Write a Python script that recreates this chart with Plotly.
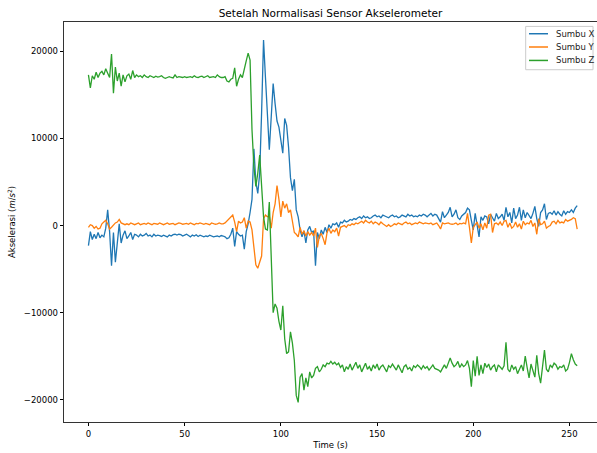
import plotly.graph_objects as go

time = list(range(255))

sumbu_x = [
    -2300, -700, -1600, -1000, -1500, -800, -1400, -1100, -1300, -300,
    1800, -700, -4600, -800, -4200, -1500, 200, -2000, -1100, -600,
    -1500, -1200, -800, -1600, -1000, -1100, -1300, -1000, -1200, -1100,
    -900, -1200, -1100, -1300, -1000, -1200, -1100, -1150, -1250, -1100,
    -1200, -1300, -1100, -1200, -1050, -1000, -1100, -1000, -1050, -1200,
    -1100, -1000, -1150, -1300, -1100, -1200, -1050, -1250, -1100, -1200,
    -1300, -1200, -1250, -1100, -1200, -1300, -1250, -1200, -1300, -1150,
    -1200, -1300, -1500, -1400, -1000, -300, -2400, -700, -1000, -1200,
    -1100, -2700, -700, 200, 1500, 3000, 8800, 5000, 3700, 6000,
    13000, 21300, 17000, 13500, 8700, 12500, 16300, 14000, 12000, 11300,
    10000, 8300, 12300, 11500, 9000, 5500, 4000, 5300, 1800, 1000,
    -500, -1300, -600, -2000, -500, -100, -800, -600, -4600, -800,
    -1500, -500, -1000, -200, -800, 100, -300, 200, 100, 300,
    -200, 400, 300, 600, 400, 500, 700, 600, 800, 700,
    900, 1000, 800, 1100, 900, 1000, 800, 900, 1100, 1200,
    1000, 1100, 900, 1200, 1100, 1000, 900, 1100, 1200, 1000,
    1100, 900, 1000, 1200, 1100, 1000, 1300, 1100, 1200, 1000,
    1100, 1000, 1200, 1100, 1300, 1200, 1000, 1200, 1400, 1100,
    1300, 1200, 800, 400, 1600, 900, 1200, 1500, 2100, 1000,
    1300, 1800, 900, 700, 1100, 1300, 1500, 2000, 1800, 600,
    -500, 1400, 100, -1300, 1000, 600, 1100, 1000, 200, 1300,
    900, 500, 1400, 800, 1000, 1300, 600, 2100, 1000, 1500,
    300, 2000, 800, 1200, 2100, 600, 1800, 900, 1500, 1200,
    800, 1400, 2200, 800, -100, 1500, 1800, 2500, 700, 1400,
    1500, 1300, 1700, 1200, 1600, 1300, 1100, 1700, 1300, 1600,
    1500, 1800, 1500, 2000, 2300,
]

sumbu_y = [
    -200, 100, 0, -300, -100, -400, -300, 200, 400, 600,
    200, -400, -200, 100, 300, 400, 700, 300, 200, 100,
    200, 100, 300, 200, 100, 200, 300, 100, 200, 250,
    150, 300, 200, 100, 250, 200, 150, 300, 200, 100,
    200, 300, 150, 200, 250, 100, 200, 300, 250, 150,
    200, 250, 150, 300, 200, 100, 250, 200, 300, 200,
    150, 250, 200, 100, 300, 250, 150, 200, 300, 200,
    200, 300, 500, 800, 1000, 1200, 400, -700, 500, 300,
    400, 900, -300, 500, 400, -500, -2500, -4500, -4900, -4200,
    -3500, 800, 1200, 1000, 1100, -300, 1500, 2500, 4600, 3000,
    1000, 2800, 2000, 2500, 1500, 1800, 500, -800, -1000, -1300,
    -200, -1000, -600, -1200, -700, -1100, -800, -1200, -300, -2500,
    -1200, -900, -1500, -2200, -800, -300, -900, -500, -700, -300,
    -1200, -200, -100, 0, -200, 100, 0, 200, 100, 300,
    200, 400, 500, 300, 600, 400, 300, 500, 200, 400,
    300, 100, 400, 200, 0, -100, 100, -100, 0, 200,
    100, 300, 200, 100, 300, 400, 200, 300, 100, 200,
    300, 200, 400, 300, 200, 300, 250, 200, 300, 100,
    200, 300, 0, -400, 300, 200, 250, 300, 200, 150,
    200, 300, 100, 250, 200, 300, 200, 1400, -200, -2000,
    -200, 100, 400, -300, 200, -500, 300, -300, 1200, 1300,
    -800, 200, 300, 100, 400, 0, 500, 600, -200, 300,
    -300, -100, 400, -200, 200, -400, 500, 100, 300, 200,
    600, -100, 300, -1000, 800, 100, 200, 500, -300, -100,
    0, 400, 500, 200, 600, 300, 400, 300, 700, 500,
    600, 700, 900, 800, -400,
]

sumbu_z = [
    17300, 15800, 17200, 16800, 17600, 17000, 17500, 17700, 17300, 18000,
    17500, 17000, 19700, 15200, 18200, 16600, 17500, 16000, 17300, 16500,
    17200, 17400, 16800, 17800, 17000, 17300, 17100, 17200, 17000, 17300,
    17100, 17000, 17200, 17100, 17000, 17150, 17050, 17100, 17200, 17000,
    16900, 17000, 17100, 17000, 16950, 17300, 17000, 17100, 17050, 17000,
    17100, 17000, 17050, 17100, 17000, 17200, 17050, 17000, 17100, 17150,
    17000, 17100, 17200, 17000, 17050, 17100, 17000, 17300, 17100, 17000,
    17000, 17100, 16600, 16500, 16800, 16900, 18100, 16000, 16800, 17300,
    17000, 17800, 18900, 19800, 19000, 11000, 6800, 4500, 6000, 8100,
    4500, 1000, -400, -500, 2700, -3000, -10000, -9000, -9500, -11000,
    -12000, -9200, -13000, -14700, -14500, -12200, -13500, -15500, -19500, -20300,
    -17400, -17000, -18900, -17500, -18500, -16800, -17500, -17200, -16400, -16200,
    -16800, -16500, -16000, -16200, -15800, -15900, -15600, -15900, -15700, -16000,
    -15800, -16300, -16000, -16800, -16200, -16500, -15900, -16600, -16100, -15700,
    -16400, -16000, -16800, -16300, -15800, -16500, -16200, -16700, -16000, -16400,
    -15900, -16600, -16200, -16000, -16500, -16800, -16100, -16300, -15900, -16200,
    -16600, -16000, -16400, -16900, -16200, -16000, -16500, -16300, -16700, -16100,
    -16300, -16000, -16200, -16500, -16100, -16400, -16200, -16600, -16300, -16000,
    -16400, -16500, -16600, -16800, -16300, -16000, -16400, -15900, -15200, -15800,
    -16200, -16000, -15600, -16300, -15900, -16200, -16000, -15500, -16400, -18500,
    -15500, -17300, -15000, -17200, -16000, -17000, -15800, -16300, -15900, -16600,
    -16200, -16000, -16800, -16000, -16200, -16500, -16100, -13400, -16500, -16800,
    -16000, -16500, -16200, -17000, -16500, -16000, -16700, -15000, -16300, -17500,
    -15900, -16700, -17400, -14900, -17000, -18100, -16000, -14300, -16500, -16800,
    -16000, -16300, -15800, -16000, -16500, -16200, -16300, -16000, -16700, -16500,
    -15700, -14700, -15400, -15900, -16100,
]

series_names = ["Sumbu X", "Sumbu Y", "Sumbu Z"]
series_colors = ["#1f77b4", "#ff7f0e", "#2ca02c"]
x_ticks = [0, 50, 100, 150, 200, 250]
y_ticks = [-20000, -10000, 0, 10000, 20000]
y_tick_labels = ["\u221220000", "\u221210000", "0", "10000", "20000"]

fig = go.Figure()
for name, vals, col in zip(series_names, [sumbu_x, sumbu_y, sumbu_z], series_colors):
    n = min(len(time), len(vals))
    fig.add_trace(go.Scatter(x=time[:n], y=vals[:n], mode="lines", name=name,
                             line=dict(color=col, width=1.3)))

font_family = "DejaVu Sans"
fig.update_layout(
    width=597, height=453,
    margin=dict(l=64, r=0, t=22, b=31, autoexpand=False),
    paper_bgcolor="white", plot_bgcolor="white",
    font=dict(family=font_family, size=8.5, color="black"),
    title=dict(text="Setelah Normalisasi Sensor Akselerometer", x=0.5, xref="paper",
               y=0.979, yref="container", xanchor="center", yanchor="top",
               font=dict(size=10.5, color="black")),
    showlegend=False,
)

# matplotlib-style legend box (upper right)
shapes = [dict(type="rect", xref="paper", yref="paper", x0=0.8662, x1=0.9925,
               y0=0.8807, y1=0.989, line=dict(color="#cccccc", width=1),
               fillcolor="rgba(255,255,255,0.8)", layer="above")]
annotations = []
row_y = [0.9707, 0.9375, 0.9039]
for name, col, ry in zip(series_names, series_colors, row_y):
    shapes.append(dict(type="line", xref="paper", yref="paper", x0=0.8724, x1=0.9081,
                       y0=ry, y1=ry, line=dict(color=col, width=1.5), layer="above"))
    annotations.append(dict(xref="paper", yref="paper", x=0.9193, y=ry, text=name,
                            showarrow=False, xanchor="left", yanchor="middle",
                            font=dict(size=8.5, color="#222222")))
fig.update_layout(shapes=shapes, annotations=annotations)

fig.update_xaxes(range=[-12.7, 264.3], tickvals=x_ticks, ticks="outside", ticklen=3.5,
                 tickcolor="black", showgrid=False, zeroline=False, showline=True,
                 linecolor="black", linewidth=0.8, mirror=True,
                 title=dict(text="Time (s)", standoff=4, font=dict(size=8.5)))
fig.update_yaxes(range=[-22555, 23372], tickvals=y_ticks, ticktext=y_tick_labels,
                 ticks="outside", ticklen=3.5, tickcolor="black", showgrid=False,
                 zeroline=False, showline=True, linecolor="black", linewidth=0.8,
                 mirror=True,
                 title=dict(text="Akselerasi (<i>m</i>/<i>s</i><sup>2</sup>)", standoff=6,
                            font=dict(size=8.5)))

fig.write_html(
    "out.html",
    config={"displayModeBar": False, "staticPlot": True},
    post_script="document.body.style.margin='0';document.body.style.overflow='hidden';",
)
